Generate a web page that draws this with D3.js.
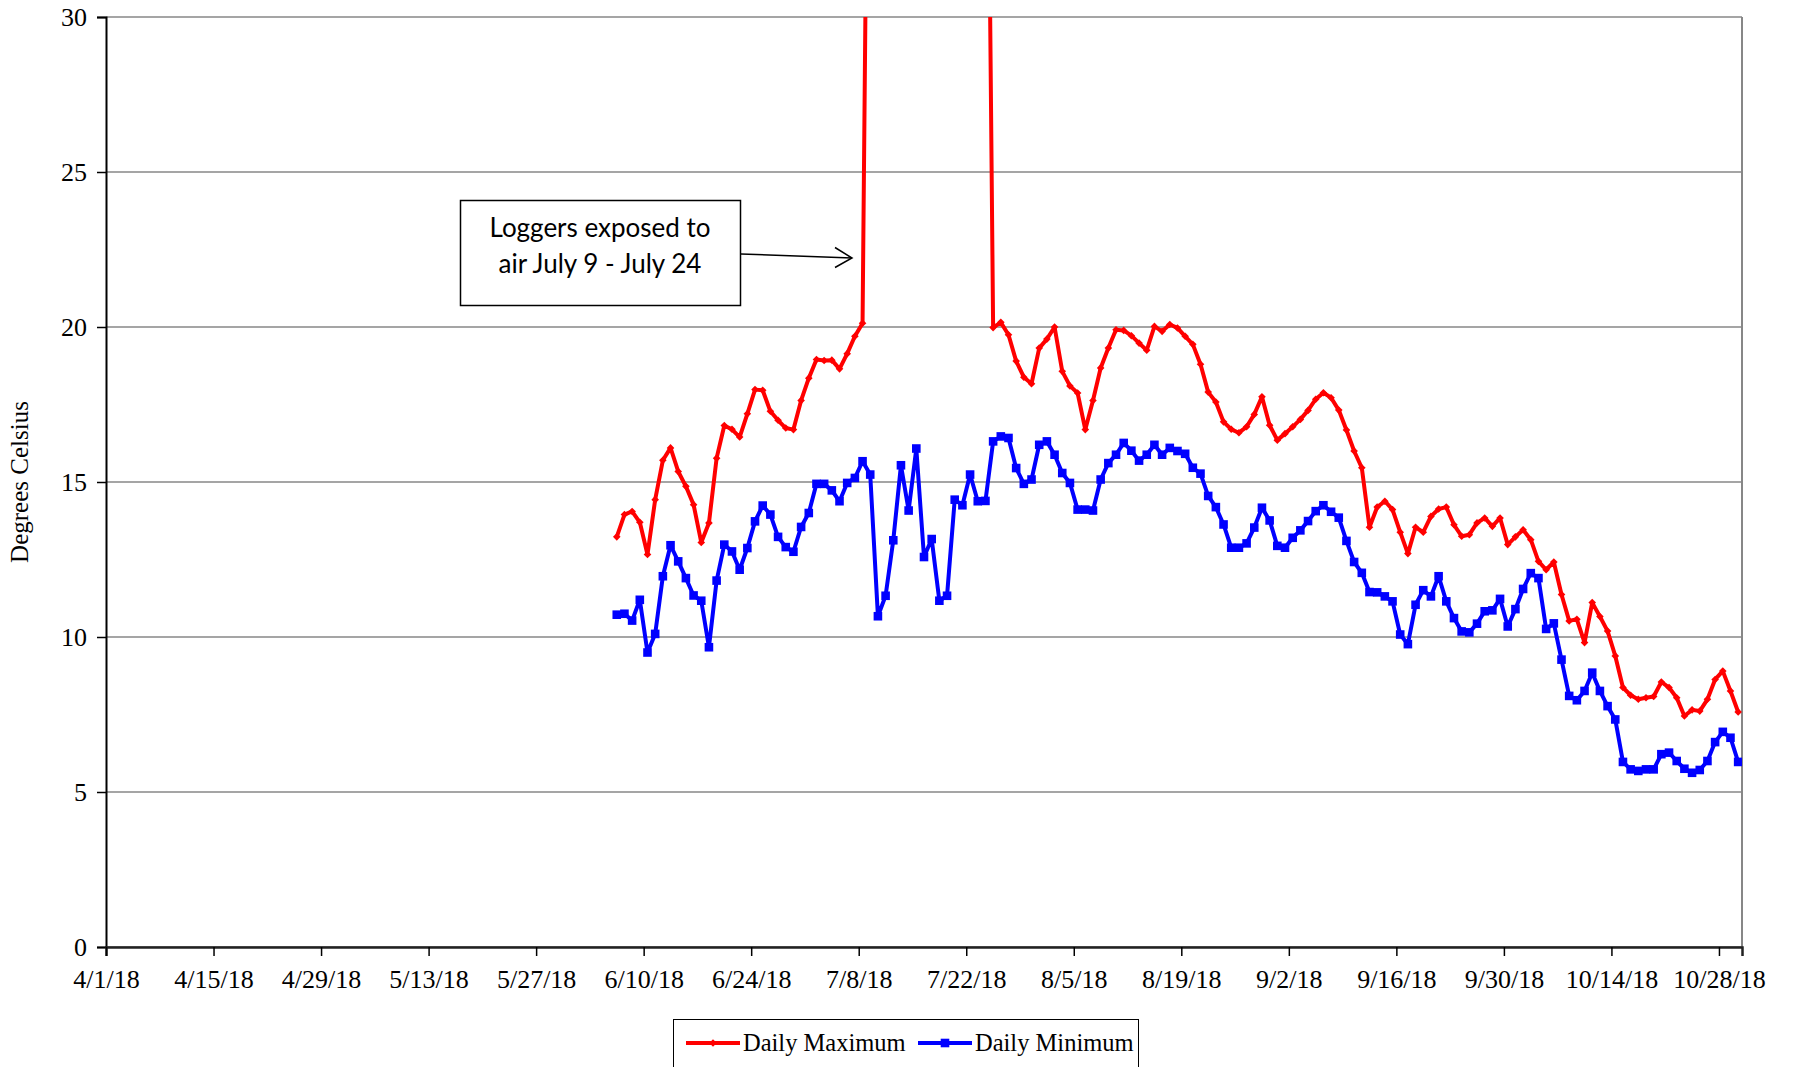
<!DOCTYPE html>
<html>
<head>
<meta charset="utf-8">
<script src="https://cdn.jsdelivr.net/npm/d3@7"></script>
<style>
  html, body { margin: 0; padding: 0; background: #ffffff; }
  svg { display: block; }
</style>
</head>
<body>
<svg id="chart" width="1793" height="1067"></svg>
<script>
// Logger record: one summary per day, 6 June 2018 through 30 October 2018,
// plotted at midday of each day
const firstDay = new Date(2018, 5, 6, 12);

// Daily maximum water temperature (°C). Readings of 9–24 July were taken in air
// and sit above the 30 °C axis limit.
const dailyMax = [
  13.23, 13.95, 14.05, 13.70, 12.66, 14.43, 15.70, 16.10, 15.34, 14.86,
  14.27, 13.05, 13.68, 15.77, 16.82, 16.70, 16.45, 17.20, 17.98, 17.96,
  17.28, 16.99, 16.74, 16.69, 17.63, 18.35, 18.95, 18.92, 18.93, 18.65,
  19.14, 19.70, 20.12,
  // air exposure, 9–24 July
  47.0, 44.0, 41.5, 45.0, 43.0, 39.5, 42.0, 46.0, 44.5, 40.0, 38.5, 43.0, 45.5, 41.0, 42.5, 46.0,
  19.98, 20.15, 19.75, 18.90, 18.38, 18.17, 19.32, 19.61, 20.00, 18.57,
  18.10, 17.87, 16.69, 17.63, 18.68, 19.32, 19.91, 19.89, 19.72, 19.48,
  19.25, 20.02, 19.86, 20.08, 19.97, 19.70, 19.44, 18.80, 17.90, 17.58,
  16.94, 16.70, 16.59, 16.78, 17.18, 17.75, 16.83, 16.35, 16.56, 16.78,
  17.02, 17.31, 17.67, 17.88, 17.72, 17.32, 16.68, 16.00, 15.46, 13.54,
  14.19, 14.38, 14.11, 13.38, 12.69, 13.54, 13.38, 13.89, 14.13, 14.19,
  13.62, 13.25, 13.30, 13.68, 13.84, 13.57, 13.84, 12.98, 13.23, 13.46,
  13.14, 12.44, 12.17, 12.42, 11.37, 10.52, 10.57, 9.82, 11.11, 10.66,
  10.19, 9.39, 8.37, 8.12, 7.99, 8.04, 8.08, 8.55, 8.37, 8.04,
  7.45, 7.65, 7.61, 7.99, 8.63, 8.90, 8.26, 7.58
];

// Daily minimum water temperature (°C)
const dailyMin = [
  10.72, 10.75, 10.53, 11.20, 9.50, 10.10, 11.96, 12.96, 12.44, 11.90,
  11.34, 11.17, 9.67, 11.82, 12.98, 12.76, 12.17, 12.87, 13.73, 14.24,
  13.95, 13.23, 12.90, 12.75, 13.55, 14.00, 14.94, 14.94, 14.73, 14.38,
  14.97, 15.13, 15.67, 15.24, 10.67, 11.33, 13.12, 15.54, 14.08, 16.08,
  12.58, 13.16, 11.17, 11.33, 14.43, 14.25, 15.24, 14.38, 14.39, 16.31,
  16.47, 16.42, 15.45, 14.94, 15.08, 16.20, 16.31, 15.88, 15.29, 14.97,
  14.11, 14.11, 14.08, 15.08, 15.61, 15.88, 16.26, 16.01, 15.69, 15.88,
  16.20, 15.88, 16.10, 16.00, 15.91, 15.46, 15.27, 14.55, 14.19, 13.63,
  12.88, 12.88, 13.02, 13.53, 14.17, 13.76, 12.94, 12.88, 13.20, 13.44,
  13.74, 14.06, 14.25, 14.04, 13.85, 13.10, 12.42, 12.07, 11.45, 11.44,
  11.31, 11.15, 10.08, 9.77, 11.04, 11.51, 11.31, 11.96, 11.15, 10.61,
  10.18, 10.15, 10.43, 10.83, 10.86, 11.23, 10.34, 10.90, 11.55, 12.06,
  11.90, 10.26, 10.44, 9.27, 8.10, 7.96, 8.26, 8.85, 8.26, 7.77,
  7.34, 5.97, 5.73, 5.68, 5.73, 5.73, 6.22, 6.27, 6.00, 5.75,
  5.62, 5.71, 6.00, 6.61, 6.94, 6.75, 5.97
];

// Axis ticks
const xTickDates = ["4/1/18", "4/15/18", "4/29/18", "5/13/18", "5/27/18", "6/10/18",
  "6/24/18", "7/8/18", "7/22/18", "8/5/18", "8/19/18", "9/2/18", "9/16/18",
  "9/30/18", "10/14/18", "10/28/18"];
const yTicks = [0, 5, 10, 15, 20, 25, 30];

const seriesNames = ["Daily Maximum", "Daily Minimum"];
const seriesColors = ["#ff0000", "#0000ff"];

const parseDate = d3.timeParse("%m/%d/%y");
const fmtDate = d3.timeFormat("%-m/%-d/%y");

const plot = { left: 106, right: 1742, top: 17, bottom: 947 };

const x = d3.scaleTime()
  .domain([new Date(2018, 3, 1), new Date(2018, 9, 31)])
  .range([plot.left, plot.right]);
const y = d3.scaleLinear().domain([0, 30]).range([plot.bottom, plot.top]);

const dayOf = i => d3.timeDay.offset(firstDay, i);
const rows = s => s.map((v, i) => ({ date: dayOf(i), value: v }));
const maxRows = rows(dailyMax);
const minRows = rows(dailyMin);

const svg = d3.select("#chart");
const serif = "'Liberation Serif', 'Times New Roman', serif";

svg.append("defs").append("clipPath").attr("id", "plotClip")
  .append("rect")
  .attr("x", plot.left).attr("y", plot.top)
  .attr("width", plot.right - plot.left).attr("height", plot.bottom - plot.top);

// Horizontal gridlines
svg.append("g").selectAll("line").data(yTicks).join("line")
  .attr("x1", plot.left).attr("x2", plot.right)
  .attr("y1", d => y(d)).attr("y2", d => y(d))
  .attr("stroke", "#878787").attr("stroke-width", 1.5);

// Right border of the plot area
svg.append("line")
  .attr("x1", plot.right).attr("x2", plot.right)
  .attr("y1", plot.top).attr("y2", plot.bottom)
  .attr("stroke", "#878787").attr("stroke-width", 2);

// Y axis
const yAxis = svg.append("g")
  .attr("transform", `translate(${plot.left},0)`)
  .call(d3.axisLeft(y).tickValues(yTicks).tickSize(9).tickPadding(10).tickFormat(d3.format("d")));
yAxis.select(".domain").attr("stroke", "#000").attr("stroke-width", 2);
yAxis.selectAll(".tick line").attr("stroke", "#000").attr("stroke-width", 1.5);
yAxis.selectAll(".tick text")
  .attr("font-family", serif).attr("font-size", 26).attr("fill", "#000");

// X axis
const xAxis = svg.append("g")
  .attr("transform", `translate(0,${plot.bottom})`)
  .call(d3.axisBottom(x).tickValues(xTickDates.map(parseDate)).tickSize(9).tickPadding(14).tickFormat(fmtDate));
xAxis.select(".domain").attr("stroke", "#222").attr("stroke-width", 2.5);
xAxis.selectAll(".tick line").attr("stroke", "#000").attr("stroke-width", 1.5);
xAxis.selectAll(".tick text")
  .attr("font-family", serif).attr("font-size", 26).attr("fill", "#000");

// Y axis title
svg.append("text")
  .attr("transform", `translate(28,${(plot.top + plot.bottom) / 2}) rotate(-90)`)
  .attr("text-anchor", "middle")
  .attr("font-family", serif).attr("font-size", 25).attr("fill", "#000")
  .text("Degrees Celsius");

// Marker shapes
const diamondPath = r => `M0,${-r}L${r},0L0,${r}L${-r},0Z`;
const squarePath = r => `M${-r},${-r}H${r}V${r}H${-r}Z`;

const line = d3.line().x(d => x(d.date)).y(d => y(d.value));
const marks = svg.append("g").attr("clip-path", "url(#plotClip)");

function drawSeries(data, color, shape) {
  marks.append("path").datum(data)
    .attr("d", line)
    .attr("fill", "none").attr("stroke", color)
    .attr("stroke-width", 4).attr("stroke-linejoin", "round");
  marks.append("g").selectAll("path").data(data).join("path")
    .attr("transform", d => `translate(${x(d.date)},${y(d.value)})`)
    .attr("d", shape)
    .attr("fill", color);
}
drawSeries(minRows, seriesColors[1], squarePath(4.3));
drawSeries(maxRows, seriesColors[0], diamondPath(3.8));

// Annotation box with arrow
const note = svg.append("g");
note.append("rect")
  .attr("x", 460.5).attr("y", 200.5).attr("width", 280).attr("height", 105)
  .attr("fill", "#fff").attr("stroke", "#000").attr("stroke-width", 1.5);
note.selectAll("text").data(["Loggers exposed to", "air July 9 - July 24"]).join("text")
  .attr("x", 600).attr("y", (d, i) => 237 + i * 36)
  .attr("text-anchor", "middle")
  .attr("font-family", "Lato, 'Open Sans', sans-serif").attr("font-size", 26)
  .attr("fill", "#000")
  .text(d => d);
const arrowTip = [852, 258];
note.append("line")
  .attr("x1", 741).attr("y1", 254).attr("x2", arrowTip[0]).attr("y2", arrowTip[1])
  .attr("stroke", "#000").attr("stroke-width", 1.5);
note.append("path")
  .attr("d", `M${arrowTip[0] - 17},${arrowTip[1] - 10.5}L${arrowTip[0]},${arrowTip[1]}L${arrowTip[0] - 17},${arrowTip[1] + 9.5}`)
  .attr("fill", "none").attr("stroke", "#000").attr("stroke-width", 1.5);

// Legend
const legend = svg.append("g");
legend.append("rect")
  .attr("x", 673.5).attr("y", 1019.5).attr("width", 465).attr("height", 60)
  .attr("fill", "#fff").attr("stroke", "#000").attr("stroke-width", 1);
const legendItems = [
  { name: seriesNames[0], color: seriesColors[0], x0: 686, shape: diamondPath(3.8) },
  { name: seriesNames[1], color: seriesColors[1], x0: 918, shape: squarePath(4.3) }
];
const li = legend.selectAll("g.item").data(legendItems).join("g")
  .attr("class", "item").attr("transform", d => `translate(${d.x0},1043)`);
li.append("line").attr("x1", 0).attr("x2", 54).attr("y1", 0).attr("y2", 0)
  .attr("stroke", d => d.color).attr("stroke-width", 4);
li.append("path").attr("transform", "translate(27,0)")
  .attr("d", d => d.shape).attr("fill", d => d.color);
li.append("text").attr("x", 57).attr("y", 8)
  .attr("font-family", serif).attr("font-size", 24.5).attr("fill", "#000")
  .text(d => d.name);
</script>
</body>
</html>
